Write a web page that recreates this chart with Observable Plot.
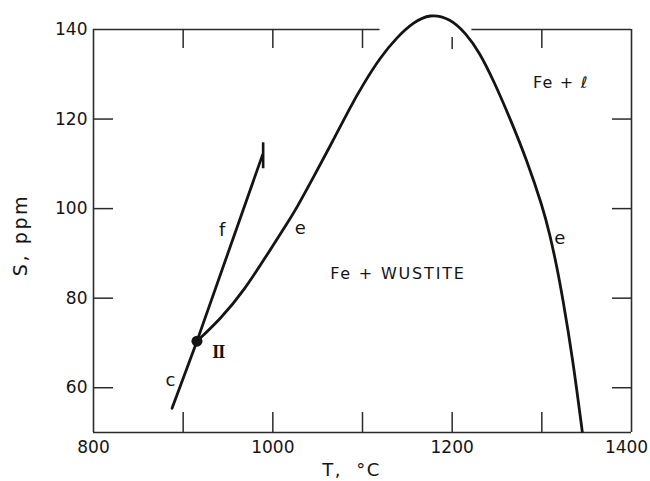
<!DOCTYPE html>
<html>
<head>
<meta charset="utf-8">
<script src="https://cdn.jsdelivr.net/npm/d3@7"></script>
<script src="https://cdn.jsdelivr.net/npm/@observablehq/plot@0.6"></script>
<style>
  body { margin: 0; background: #fff; }
  #chart svg { display: block; }
</style>
</head>
<body>
<div id="chart"></div>
<script>
// ---- data ----
// curve e (Fe + wustite boundary): temperature °C and sulfur ppm
const eT = [915.4, 941.4, 967.3, 997.1, 1015.6, 1026.8, 1045.3, 1063.8, 1086.1, 1100.9, 1119.5, 1138.1, 1156.6, 1175.2,
            1197.4, 1215.2, 1230.8, 1246.4, 1265.3, 1283.1, 1300.9, 1308.7, 1316.5, 1323.2, 1334.3, 1345.1];
const eS = [70.4, 75.3, 81.5, 90.8, 96.6, 100.2, 107.0, 113.9, 122.6, 127.8, 133.7, 138.2, 141.6, 143.5,
            142.5, 139.2, 134.8, 128.5, 119.8, 110.9, 100.4, 94.4, 87.3, 80.1, 66.7, 50.2];
// line f
const fT = [915.4, 988.5];
const fS = [70.4, 112.0];
// line c
const cT = [887.6, 915.4];
const cS = [55.4, 70.4];
// invariant point II
const pointT = [915.4];
const pointS = [70.4];
// end mark on line f
const fEndT = [989.2];
const fEndS1 = [108.9];
const fEndS2 = [114.7];

// axes
const xTickLabels = [800, 1000, 1200];
const xLastTickLabel = [1400];
const yTickLabels = [60, 80, 100, 120, 140];
const bottomTicks = [900, 1000, 1100, 1200, 1300];
const topTicks = [900, 1000, 1100, 1300];
const topShortTicks = [1200];
const leftTicks = [60, 80, 100, 120];
const rightTicks = [60, 80, 100, 120];
// top frame edge, interrupted where curve e rises above it
const topFrameStart = [800, 1222];
const topFrameEnd = [1119.6, 1400];

// annotations
const curveLabels = ["f", "e", "e", "c"];
const curveLabelT = [943.6, 1030.5, 1319.9, 885.7];
const curveLabelS = [95.1, 95.7, 93.3, 61.6];
const regionLabels = ["Fe + WUSTITE", "Fe + \u2113"];
const regionLabelT = [1139.5, 1321];
const regionLabelS = [85.5, 128.1];
const pointLabel = ["II"];
const pointLabelT = [939.2];
const pointLabelS = [67.9];
const xTitle = "T,  \u00B0C";
const yTitle = "S, ppm";

// ---- build ----
const W = 650, H = 481, mL = 93, mR = 19, mT = 29, mB = 49;
const FW = W - mL - mR, FH = H - mT - mB;
const ink = "#141414";
const frameInk = "#2b2b2b";
const zip = (a, b) => a.map((v, i) => ({T: v, S: b[i]}));

const eData = zip(eT, eS);
const fData = zip(fT, fS);
const cData = zip(cT, cS);
const topFrame = topFrameStart.map((v, i) => ({x1: v, x2: topFrameEnd[i]}));
const cl = curveLabels.map((t, i) => ({t, T: curveLabelT[i], S: curveLabelS[i]}));
const rl = regionLabels.map((t, i) => ({t, T: regionLabelT[i], S: regionLabelS[i]}));
const pl = pointLabel.map((t, i) => ({t, T: pointLabelT[i], S: pointLabelS[i]}));

const chart = Plot.plot({
  width: W, height: H,
  marginLeft: mL, marginRight: mR, marginTop: mT, marginBottom: mB,
  x: {domain: [800, 1400], axis: null},
  y: {domain: [50, 140], axis: null},
  style: {fontFamily: "'DejaVu Sans', sans-serif", fontSize: "17px", color: ink, background: "#fff", overflow: "visible"},
  marks: [
    // frame
    Plot.ruleX([800, 1400], {stroke: frameInk, strokeWidth: 1.6}),
    Plot.ruleY([50], {stroke: frameInk, strokeWidth: 1.6}),
    Plot.ruleY(topFrame, {y: 140, x1: "x1", x2: "x2", stroke: frameInk, strokeWidth: 1.6}),
    // inward ticks
    Plot.ruleX(bottomTicks, {stroke: frameInk, strokeWidth: 1.5, insetTop: FH - 20}),
    Plot.ruleX(topTicks, {stroke: frameInk, strokeWidth: 1.5, insetBottom: FH - 19}),
    Plot.ruleX(topShortTicks, {stroke: frameInk, strokeWidth: 1.5, insetTop: 8, insetBottom: FH - 20}),
    Plot.ruleY(leftTicks, {stroke: frameInk, strokeWidth: 1.5, insetRight: FW - 20}),
    Plot.ruleY(rightTicks, {stroke: frameInk, strokeWidth: 1.5, insetLeft: FW - 19}),
    // tick labels
    Plot.axisX(xTickLabels, {anchor: "bottom", tickSize: 0, tickPadding: 8, tickFormat: d => String(d), label: null, fontSize: 17, fill: ink}),
    Plot.axisX(xLastTickLabel, {anchor: "bottom", tickSize: 0, tickPadding: 8, dx: -5, tickFormat: d => String(d), label: null, fontSize: 17, fill: ink}),
    Plot.axisY(yTickLabels, {anchor: "left", tickSize: 0, tickPadding: 6, tickFormat: d => String(d), label: null, fontSize: 17, fill: ink}),
    // axis titles
    Plot.text([yTitle], {frameAnchor: "left", textAnchor: "middle", dx: -73, dy: 4, rotate: -90, text: d => d, fontSize: 19, fill: ink}),
    Plot.text([xTitle], {frameAnchor: "bottom", textAnchor: "middle", dx: -11, dy: 43, text: d => d, fontSize: 18, fill: ink}),
    // curves
    Plot.line(cData, {x: "T", y: "S", stroke: ink, strokeWidth: 2.8}),
    Plot.line(fData, {x: "T", y: "S", stroke: ink, strokeWidth: 2.8}),
    Plot.ruleX(fEndT.map((t, i) => ({T: t, a: fEndS1[i], b: fEndS2[i]})), {x: "T", y1: "a", y2: "b", stroke: ink, strokeWidth: 2.6}),
    Plot.line(eData, {x: "T", y: "S", curve: "basis", stroke: ink, strokeWidth: 2.8}),
    Plot.dot(zip(pointT, pointS), {x: "T", y: "S", r: 5.5, fill: ink, stroke: null}),
    // annotations
    Plot.text(cl, {x: "T", y: "S", text: "t", fontSize: 18, fill: ink}),
    Plot.text(rl, {x: "T", y: "S", text: "t", fontSize: 16, fill: ink}),
    Plot.text(pl, {x: "T", y: "S", text: "t", fontSize: 18, fontWeight: "bold", fontFamily: "'Liberation Serif', serif", fill: ink})
  ]
});

const spacing = {"Fe + WUSTITE": 1.8, "Fe + \u2113": 1.2, "S, ppm": 2.6, "T,  \u00B0C": 1.5, "II": -1};
d3.select(chart).selectAll("text").each(function () {
  const s = spacing[this.textContent];
  if (s !== undefined) this.setAttribute("letter-spacing", s);
});
document.getElementById("chart").appendChild(chart);
</script>
</body>
</html>
